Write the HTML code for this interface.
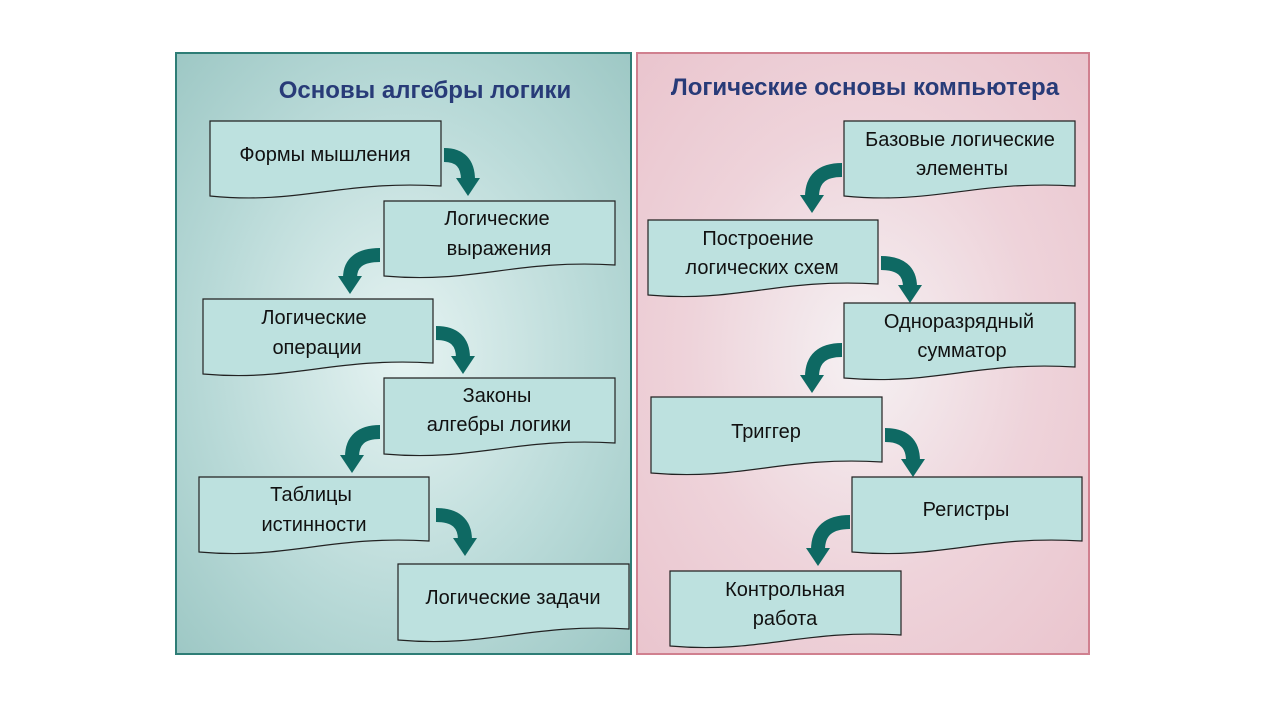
<!DOCTYPE html>
<html><head><meta charset="utf-8"><style>
html,body{margin:0;padding:0;background:#fff;}
text{font-family:"Liberation Sans",Arial,sans-serif;}
</style></head><body>
<svg width="1280" height="720" viewBox="0 0 1280 720" xmlns="http://www.w3.org/2000/svg">
<defs>
<radialGradient id="gl" cx="0.5" cy="0.5" r="0.7">
<stop offset="0" stop-color="#e6f3f2"/><stop offset="0.6" stop-color="#b9dad8"/><stop offset="1" stop-color="#9ec8c5"/></radialGradient>
<radialGradient id="gr" cx="0.5" cy="0.5" r="0.7">
<stop offset="0" stop-color="#f5f1f3"/><stop offset="0.55" stop-color="#eed3da"/><stop offset="1" stop-color="#eac5ce"/></radialGradient>
</defs>
<rect x="176" y="53" width="455" height="601" fill="url(#gl)" stroke="#2e7d76" stroke-width="2"/>
<rect x="637" y="53" width="452" height="601" fill="url(#gr)" stroke="#d0808f" stroke-width="2"/>
<text x="425" y="98" text-anchor="middle" font-size="24" font-weight="bold" fill="#283b78">Основы алгебры логики</text>
<text x="865" y="95" text-anchor="middle" font-size="24" font-weight="bold" fill="#283b78">Логические основы компьютера</text>
<g fill="#bde1df" stroke="#222" stroke-width="1.2">
<path d="M210 121 H441 V186 C340 180 300 205 210 196 Z"/>
<path d="M384 201 H615 V265 C515 259 475 284 384 276 Z"/>
<path d="M203 299 H433 V363 C333 357 293 382 203 374 Z"/>
<path d="M384 378 H615 V443 C515 437 475 462 384 454 Z"/>
<path d="M199 477 H429 V541 C329 535 289 560 199 552 Z"/>
<path d="M398 564 H629 V629 C529 623 489 648 398 640 Z"/>
<path d="M844 121 H1075 V186 C975 180 935 205 844 196 Z"/>
<path d="M648 220 H878 V284 C778 278 738 303 648 295 Z"/>
<path d="M844 303 H1075 V367 C975 361 935 386 844 378 Z"/>
<path d="M651 397 H882 V462 C782 456 742 481 651 473 Z"/>
<path d="M852 477 H1082 V541 C982 535 942 560 852 552 Z"/>
<path d="M670 571 H901 V635 C801 629 761 654 670 646 Z"/>
</g>
<g font-size="20" fill="#111" text-anchor="middle">
<text x="325" y="161">Формы мышления</text>
<text x="497" y="225">Логические</text><text x="499" y="255">выражения</text>
<text x="314" y="324">Логические</text><text x="317" y="354">операции</text>
<text x="497" y="402">Законы</text><text x="499" y="431">алгебры логики</text>
<text x="311" y="501">Таблицы</text><text x="314" y="531">истинности</text>
<text x="513" y="604">Логические задачи</text>
<text x="960" y="146">Базовые логические</text><text x="962" y="175">элементы</text>
<text x="758" y="245">Построение</text><text x="762" y="274">логических схем</text>
<text x="959" y="328">Одноразрядный</text><text x="962" y="357">сумматор</text>
<text x="766" y="438">Триггер</text>
<text x="966" y="516">Регистры</text>
<text x="785" y="596">Контрольная</text><text x="785" y="625">работа</text>
</g>
<g fill="none" stroke="#0e6963" stroke-width="14">
<path d="M444 155 Q468 155 468 180"/>
<path d="M380 255 Q350 255 350 278"/>
<path d="M436 333 Q463 333 463 358"/>
<path d="M380 432 Q352 432 352 457"/>
<path d="M436 515 Q465 515 465 540"/>
<path d="M842 170 Q812 170 812 197"/>
<path d="M881 263 Q910 263 910 287"/>
<path d="M842 350 Q812 350 812 377"/>
<path d="M885 435 Q913 435 913 461"/>
<path d="M850 522 Q818 522 818 550"/>
</g>
<g fill="#0e6963">
<polygon points="456,178 480,178 468,196"/>
<polygon points="338,276 362,276 350,294"/>
<polygon points="451,356 475,356 463,374"/>
<polygon points="340,455 364,455 352,473"/>
<polygon points="453,538 477,538 465,556"/>
<polygon points="800,195 824,195 812,213"/>
<polygon points="898,285 922,285 910,303"/>
<polygon points="800,375 824,375 812,393"/>
<polygon points="901,459 925,459 913,477"/>
<polygon points="806,548 830,548 818,566"/>
</g>
</svg>
</body></html>
